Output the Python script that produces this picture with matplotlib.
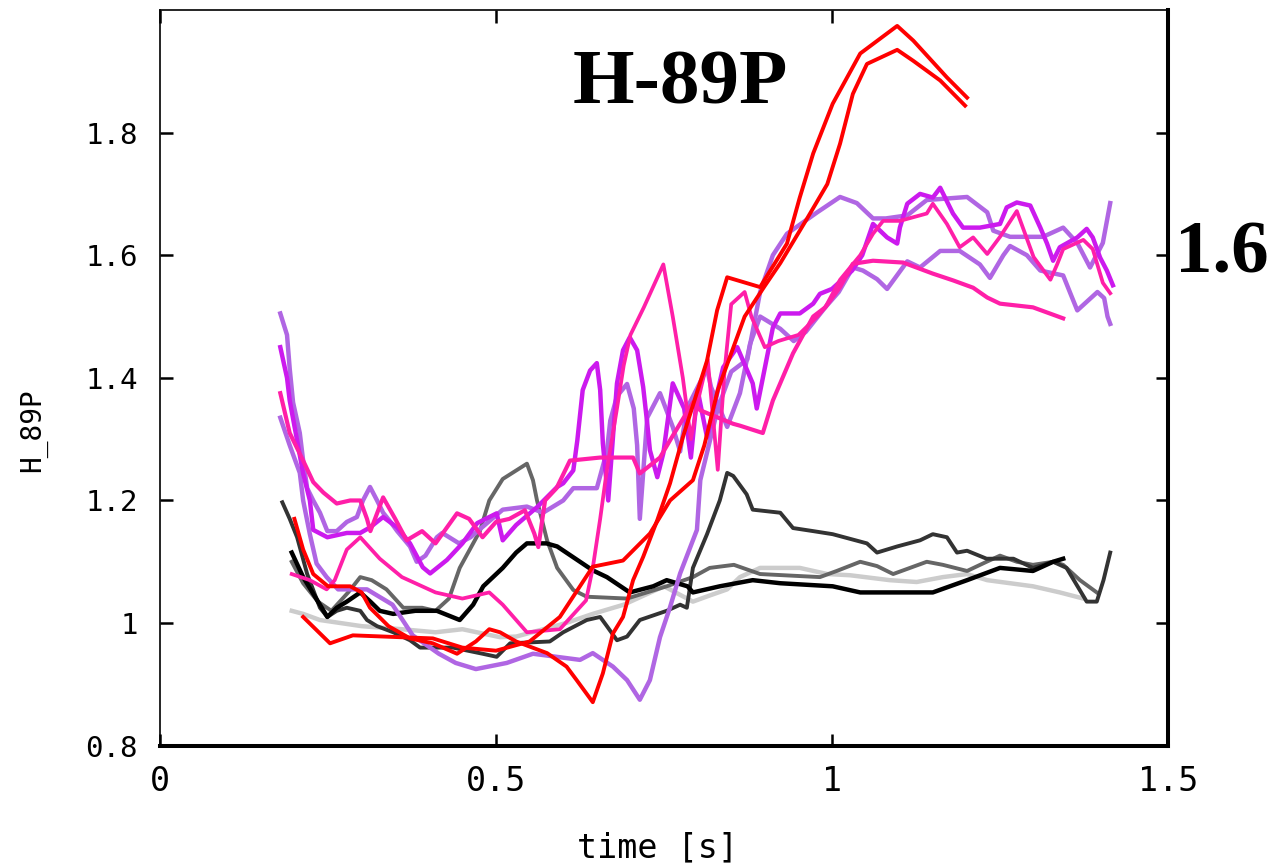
import matplotlib
matplotlib.use("Agg")
import matplotlib.pyplot as plt

# ---- data ----
red_a_t = [0.2, 0.213, 0.228, 0.25, 0.283, 0.3, 0.3125, 0.34, 0.372, 0.406, 0.442, 0.47, 0.49, 0.506, 0.53,
           0.576, 0.605, 0.62, 0.644, 0.659, 0.674, 0.689, 0.704, 0.719, 0.74, 0.759, 0.778, 0.814, 0.829,
           0.844, 0.893, 0.933, 0.952, 0.972, 1.001, 1.042, 1.097, 1.121, 1.171, 1.201]
red_a_h = [1.17, 1.12, 1.08, 1.06, 1.06, 1.05, 1.025, 0.995, 0.975, 0.967, 0.95, 0.97, 0.99, 0.985, 0.97,
           0.951, 0.929, 0.907, 0.871, 0.918, 0.983, 1.01, 1.07, 1.108, 1.168, 1.228, 1.303, 1.428, 1.51,
           1.564, 1.548, 1.619, 1.694, 1.766, 1.847, 1.929, 1.974, 1.95, 1.89, 1.857]

red_b_t = [0.213, 0.253, 0.287, 0.357, 0.406, 0.45, 0.5, 0.55, 0.595, 0.644, 0.689, 0.729, 0.759, 0.793,
           0.81, 0.83, 0.85, 0.87, 0.9, 0.923, 0.963, 0.993, 1.012, 1.031, 1.052, 1.097, 1.121, 1.161, 1.198]
red_b_h = [1.01, 0.967, 0.98, 0.977, 0.975, 0.96, 0.955, 0.97, 1.01, 1.092, 1.102, 1.146, 1.2, 1.233,
           1.29, 1.38, 1.44, 1.5, 1.55, 1.587, 1.66, 1.716, 1.782, 1.863, 1.912, 1.935, 1.917, 1.885, 1.844]

pink_a_t = [0.196, 0.223, 0.248, 0.26, 0.278, 0.298, 0.327, 0.36, 0.41, 0.45, 0.49, 0.51, 0.546, 0.595,
            0.634, 0.644, 0.655, 0.665, 0.68, 0.69, 0.7, 0.72, 0.749, 0.763, 0.778, 0.79, 0.80, 0.815, 0.83,
            0.84, 0.85, 0.87, 0.88, 0.9, 0.92, 0.95, 0.978, 0.99, 1.012, 1.042, 1.061, 1.076, 1.101, 1.141,
            1.15, 1.171, 1.19, 1.21, 1.231, 1.25, 1.275, 1.3, 1.325, 1.335, 1.344, 1.374, 1.388, 1.403, 1.414]
pink_a_h = [1.08, 1.07, 1.055, 1.07, 1.12, 1.14, 1.105, 1.075, 1.05, 1.04, 1.05, 1.03, 0.985, 0.99,
            1.037, 1.09, 1.17, 1.25, 1.35, 1.42, 1.47, 1.515, 1.585, 1.5, 1.4, 1.3, 1.36, 1.43, 1.25,
            1.41, 1.52, 1.54, 1.5, 1.45, 1.46, 1.47, 1.5, 1.515, 1.56, 1.6, 1.635, 1.656, 1.656, 1.668,
            1.684, 1.651, 1.613, 1.629, 1.602, 1.63, 1.672, 1.597, 1.56, 1.585, 1.61, 1.625, 1.61, 1.555, 1.538]

pink_b_t = [0.179, 0.193, 0.213, 0.228, 0.243, 0.263, 0.283, 0.298, 0.308, 0.313, 0.332, 0.35, 0.367,
            0.39, 0.41, 0.442, 0.46, 0.48, 0.5, 0.52, 0.543, 0.557, 0.563, 0.573, 0.59, 0.61, 0.655, 0.704,
            0.714, 0.744, 0.76, 0.793, 0.804, 0.853, 0.863, 0.897, 0.912, 0.942, 0.972, 0.99, 1.012, 1.031,
            1.061, 1.106, 1.15, 1.18, 1.21, 1.231, 1.25, 1.299, 1.344]
pink_b_h = [1.375, 1.31, 1.265, 1.23, 1.213, 1.195, 1.2, 1.2, 1.17, 1.15, 1.205, 1.17, 1.135,
            1.15, 1.13, 1.179, 1.17, 1.14, 1.165, 1.17, 1.184, 1.146, 1.124, 1.2, 1.22, 1.265, 1.27, 1.27,
            1.244, 1.27, 1.3, 1.36, 1.347, 1.325, 1.322, 1.31, 1.363, 1.44, 1.5, 1.515, 1.548, 1.586,
            1.591, 1.588, 1.57, 1.559, 1.547, 1.531, 1.521, 1.515, 1.497]

mag_t = [0.179, 0.189, 0.193, 0.204, 0.213, 0.223, 0.228, 0.249, 0.278, 0.298, 0.3125, 0.332, 0.353,
         0.372, 0.391, 0.402, 0.427, 0.45, 0.472, 0.501, 0.51, 0.53, 0.561, 0.591, 0.6, 0.615, 0.621,
         0.629, 0.64, 0.65, 0.655, 0.659, 0.667, 0.68, 0.689, 0.699, 0.71, 0.719, 0.725, 0.729, 0.74,
         0.749, 0.763, 0.78, 0.79, 0.8, 0.814, 0.838, 0.859, 0.882, 0.888, 0.912, 0.923, 0.952, 0.972,
         0.982, 1.0, 1.03, 1.045, 1.061, 1.082, 1.097, 1.101, 1.112, 1.131, 1.15, 1.161, 1.18, 1.195,
         1.22, 1.25, 1.26, 1.275, 1.295, 1.31, 1.32, 1.329, 1.339, 1.365, 1.379, 1.388, 1.399, 1.409, 1.418]
mag_h = [1.45, 1.40, 1.363, 1.298, 1.244, 1.2, 1.152, 1.14, 1.147, 1.147, 1.156, 1.173, 1.156,
         1.13, 1.091, 1.081, 1.103, 1.13, 1.163, 1.179, 1.135, 1.16, 1.189, 1.222, 1.228, 1.249, 1.298,
         1.38, 1.412, 1.424, 1.38, 1.293, 1.2, 1.391, 1.445, 1.466, 1.445, 1.385, 1.326, 1.282, 1.238,
         1.277, 1.391, 1.35, 1.27, 1.38, 1.303, 1.417, 1.45, 1.391, 1.35, 1.482, 1.505, 1.505, 1.521,
         1.537, 1.545, 1.575, 1.6, 1.651, 1.629, 1.619, 1.645, 1.684, 1.7, 1.694, 1.71, 1.668, 1.645,
         1.645, 1.651, 1.678, 1.686, 1.681, 1.645, 1.619, 1.591, 1.613, 1.629, 1.643, 1.629, 1.596, 1.575, 1.551]

lav_a_t = [0.179, 0.189, 0.193, 0.198, 0.208, 0.213, 0.219, 0.228, 0.238, 0.249, 0.263, 0.278, 0.293,
           0.302, 0.3125, 0.323, 0.332, 0.343, 0.353, 0.372, 0.382, 0.395, 0.412, 0.42, 0.445, 0.462,
           0.51, 0.546, 0.57, 0.6, 0.615, 0.65, 0.665, 0.67, 0.68, 0.695, 0.705, 0.71, 0.714, 0.725,
           0.744, 0.763, 0.774, 0.784, 0.814, 0.82, 0.844, 0.863, 0.878, 0.893, 0.923, 0.943, 0.961,
           0.99, 1.01, 1.031, 1.046, 1.067, 1.082, 1.112, 1.131, 1.161, 1.19, 1.22, 1.235, 1.255, 1.265,
           1.29, 1.31, 1.344, 1.355, 1.365, 1.38, 1.395, 1.405, 1.41, 1.414]
lav_a_h = [1.505, 1.47, 1.415, 1.36, 1.31, 1.265, 1.22, 1.2, 1.18, 1.15, 1.15, 1.165, 1.173,
           1.2, 1.222, 1.2, 1.18, 1.165, 1.15, 1.125, 1.1, 1.11, 1.14, 1.147, 1.13, 1.14,
           1.185, 1.19, 1.18, 1.2, 1.22, 1.22, 1.28, 1.33, 1.37, 1.39, 1.35, 1.29, 1.17, 1.335,
           1.375, 1.32, 1.28, 1.35, 1.415, 1.385, 1.32, 1.375, 1.455, 1.5, 1.48, 1.46, 1.475,
           1.515, 1.54, 1.58, 1.575, 1.561, 1.545, 1.59, 1.58, 1.607, 1.607, 1.585, 1.563, 1.6, 1.615,
           1.6, 1.575, 1.567, 1.537, 1.51, 1.525, 1.54, 1.53, 1.5, 1.488]

lav_b_t = [0.179, 0.193, 0.208, 0.213, 0.223, 0.233, 0.248, 0.265, 0.308, 0.346, 0.376, 0.415, 0.44,
           0.47, 0.516, 0.555, 0.625, 0.644, 0.674, 0.695, 0.714, 0.729, 0.744, 0.759, 0.774, 0.799,
           0.804, 0.83, 0.85, 0.874, 0.893, 0.912, 0.933, 0.978, 1.012, 1.037, 1.061, 1.08, 1.112,
           1.141, 1.201, 1.231, 1.24, 1.265, 1.314, 1.344, 1.365, 1.384, 1.403, 1.414]
lav_b_h = [1.335, 1.29, 1.245, 1.2, 1.145, 1.097, 1.075, 1.055, 1.055, 1.03, 0.98, 0.95, 0.935,
           0.925, 0.935, 0.95, 0.94, 0.951, 0.929, 0.907, 0.875, 0.907, 0.977, 1.026, 1.081, 1.152,
           1.233, 1.35, 1.41, 1.43, 1.54, 1.6, 1.635, 1.67, 1.695, 1.685, 1.66, 1.66, 1.665,
           1.69, 1.695, 1.67, 1.64, 1.63, 1.63, 1.645, 1.62, 1.58, 1.62, 1.685]

black_t = [0.196, 0.213, 0.249, 0.263, 0.278, 0.298, 0.313, 0.327, 0.347, 0.38, 0.412, 0.446, 0.466,
           0.481, 0.51, 0.53, 0.546, 0.575, 0.591, 0.644, 0.665, 0.699, 0.734, 0.754, 0.785, 0.793, 0.833,
           0.882, 0.923, 1.001, 1.042, 1.15, 1.201, 1.25, 1.299, 1.329, 1.344]
black_h = [1.115, 1.075, 1.01, 1.025, 1.035, 1.05, 1.035, 1.02, 1.015, 1.02, 1.02, 1.005, 1.03,
           1.06, 1.09, 1.115, 1.13, 1.13, 1.125, 1.086, 1.075, 1.05, 1.06, 1.07, 1.06, 1.05, 1.06,
           1.07, 1.065, 1.06, 1.05, 1.05, 1.07, 1.09, 1.085, 1.1, 1.105]

dark_t = [0.182, 0.193, 0.204, 0.219, 0.238, 0.249, 0.263, 0.278, 0.298, 0.308, 0.323, 0.347, 0.372,
          0.387, 0.436, 0.48, 0.501, 0.521, 0.58, 0.6, 0.635, 0.655, 0.665, 0.68, 0.695, 0.714, 0.754,
          0.774, 0.784, 0.793, 0.814, 0.833, 0.844, 0.853, 0.873, 0.882, 0.923, 0.942, 0.972, 1.001,
          1.052, 1.067, 1.097, 1.131, 1.15, 1.171, 1.186, 1.201, 1.23, 1.27, 1.299, 1.329, 1.349, 1.379,
          1.394, 1.404, 1.414]
dark_h = [1.197, 1.17, 1.14, 1.08, 1.025, 1.01, 1.02, 1.025, 1.02, 1.005, 0.995, 0.985, 0.972,
          0.96, 0.96, 0.95, 0.945, 0.967, 0.97, 0.985, 1.005, 1.01, 0.995, 0.972, 0.978, 1.005, 1.02,
          1.03, 1.025, 1.09, 1.145, 1.2, 1.245, 1.24, 1.21, 1.185, 1.18, 1.155, 1.15, 1.145,
          1.13, 1.115, 1.125, 1.135, 1.145, 1.14, 1.115, 1.118, 1.105, 1.105, 1.09, 1.1, 1.09, 1.035,
          1.035, 1.07, 1.115]

gray_t = [0.196, 0.213, 0.235, 0.255, 0.28, 0.298, 0.315, 0.337, 0.362, 0.39, 0.41, 0.43, 0.446,
          0.461, 0.476, 0.49, 0.51, 0.546, 0.555, 0.561, 0.576, 0.591, 0.615, 0.635, 0.695, 0.754,
          0.793, 0.818, 0.854, 0.893, 0.982, 1.007, 1.042, 1.067, 1.091, 1.141, 1.165, 1.201, 1.23,
          1.25, 1.275, 1.299, 1.329, 1.344, 1.369, 1.394]
gray_h = [1.1, 1.065, 1.035, 1.02, 1.05, 1.075, 1.07, 1.055, 1.025, 1.025, 1.02, 1.04, 1.09,
          1.12, 1.15, 1.2, 1.235, 1.26, 1.233, 1.2, 1.135, 1.09, 1.054, 1.043, 1.04, 1.06,
          1.075, 1.09, 1.095, 1.08, 1.075, 1.085, 1.1, 1.093, 1.08, 1.1, 1.095, 1.085, 1.1,
          1.11, 1.1, 1.095, 1.1, 1.095, 1.07, 1.05]

light_t = [0.196, 0.213, 0.238, 0.3, 0.36, 0.41, 0.45, 0.506, 0.53, 0.604, 0.644, 0.69, 0.72, 0.75,
           0.793, 0.818, 0.844, 0.863, 0.893, 0.952, 0.993, 1.027, 1.086, 1.126, 1.165, 1.201, 1.231,
           1.299, 1.339, 1.374]
light_h = [1.02, 1.015, 1.005, 0.995, 0.99, 0.985, 0.99, 0.977, 0.978, 1.0, 1.015, 1.03, 1.045, 1.06,
           1.035, 1.045, 1.055, 1.075, 1.09, 1.09, 1.08, 1.078, 1.07, 1.067, 1.075, 1.08, 1.07,
           1.06, 1.05, 1.04]

xticks = [0, 0.5, 1, 1.5]
xtick_labels = ["0", "0.5", "1", "1.5"]
yticks = [0.8, 1.0, 1.2, 1.4, 1.6, 1.8]
ytick_labels = ["0.8", "1", "1.2", "1.4", "1.6", "1.8"]

RED = "#ff0000"
PINK = "#ff1fa8"
MAGENTA = "#cc1aee"
LAVENDER = "#b066e3"

fig = plt.figure(figsize=(12.74, 8.67), dpi=100)
ax = fig.add_axes([0.1256, 0.1399, 0.7912, 0.8486])

# grey family first, coloured ones on top
ax.plot(light_t, light_h, color="#cccccc", lw=3.2)
ax.plot(gray_t, gray_h, color="#666666", lw=2.8)
ax.plot(dark_t, dark_h, color="#333333", lw=2.8)
ax.plot(black_t, black_h, color="#000000", lw=3.2)
ax.plot(lav_a_t, lav_a_h, color=LAVENDER, lw=3.2)
ax.plot(lav_b_t, lav_b_h, color=LAVENDER, lw=3.2)
ax.plot(mag_t, mag_h, color=MAGENTA, lw=3.2)
ax.plot(pink_b_t, pink_b_h, color=PINK, lw=3.0)
ax.plot(pink_a_t, pink_a_h, color=PINK, lw=2.7)
ax.plot(red_a_t, red_a_h, color=RED, lw=2.8)
ax.plot(red_b_t, red_b_h, color=RED, lw=2.8)

ax.set_xlim(0, 1.5)
ax.set_ylim(0.8, 2.0)
ax.set_xticks(xticks)
ax.set_xticklabels(xtick_labels, family="DejaVu Sans Mono", fontsize=24)
ax.set_yticks(yticks)
ax.set_yticklabels(ytick_labels, family="DejaVu Sans Mono", fontsize=21)
ax.tick_params(axis="both", direction="in", length=9, width=1.8, top=True, right=True)
ax.tick_params(axis="y", pad=16)
ax.tick_params(axis="x", pad=14)

ax.spines["left"].set_linewidth(1.2)
ax.spines["top"].set_linewidth(1.2)
ax.spines["right"].set_linewidth(2.9)
ax.spines["bottom"].set_linewidth(2.9)

ax.set_xlabel("time [s]", family="DejaVu Sans Mono", fontsize=24)
ax.xaxis.set_label_coords(0.494, -0.139)
ax.xaxis.label.set_va("center")
ax.set_ylabel("H_89P", family="DejaVu Sans Mono", fontsize=20)
ax.yaxis.set_label_coords(-0.126, 0.429)
ax.yaxis.label.set_va("center")

ax.text(0.516, 0.898, "H-89P", transform=ax.transAxes, ha="center", va="center",
        family="Liberation Serif", fontweight="bold", fontsize=57)
ax.text(1.007, 0.667, "1.6", transform=ax.transAxes, ha="left", va="center",
        family="Liberation Serif", fontweight="bold", fontsize=54)

fig.savefig("out.png", dpi=100)
